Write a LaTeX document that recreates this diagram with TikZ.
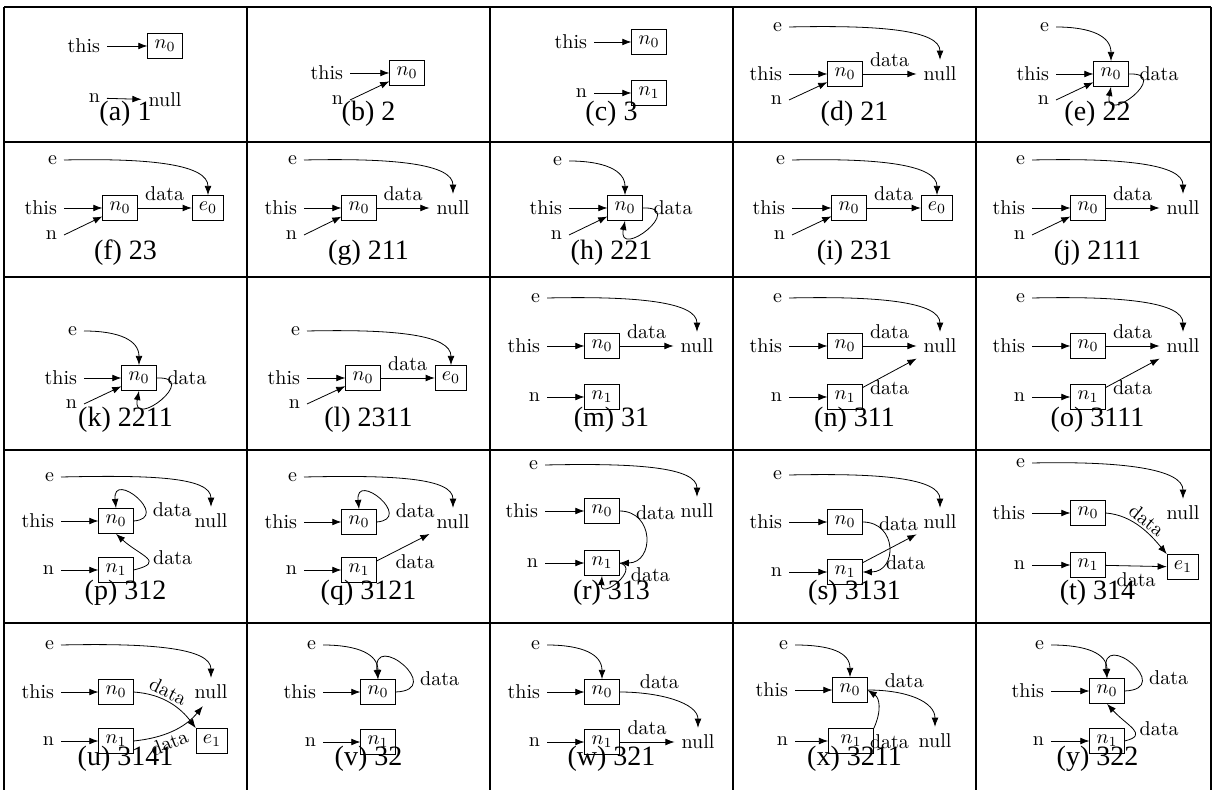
\documentclass[tikz,border=0pt]{standalone}
\usepackage{fontspec}
\newfontfamily\capserif{Liberation Serif}
\usetikzlibrary{arrows.meta}
\tikzset{
  lbl/.style={inner sep=3.33pt},
  nbox/.style={draw, inner sep=3.33pt},
  tag/.style={inner sep=3.33pt},
  slant/.style={sloped, inner sep=1pt},
  subcap/.style={font=\capserif\fontsize{14}{16}\selectfont},
  rule/.style={line width=0.6pt}
}
\begin{document}
\begin{tikzpicture}[x=0.5pt, y=-0.5pt, >={Latex[length=4.6pt,width=3.4pt]}]
\useasboundingbox (0,0) rectangle (1214,790);

% table
\foreach \yy in {7,142,277,450,623} \draw[rule] (4,\yy) -- (1211,\yy);
\foreach \xx in {4,247,490,733,976,1211} \draw[rule] (\xx,7) -- (\xx,790);

% (a) 1
\begin{scope}[shift={(4,0)}]
\node[lbl, anchor=east] (a-this) at (103,46) {this};
\node[nbox] (a-n0) at (161,46) {$n_0$};
\node[lbl, anchor=east] (a-n) at (103,98) {n};
\node[lbl] (a-null) at (161,100) {null};
\node[subcap] (a-cap) at (121.5,114) {(a) 1};
\draw[->] (a-this) -- (a-n0);
\draw[->] (a-n) -- (a-null);
\end{scope}

% (b) 2
\begin{scope}[shift={(247,0)}]
\node[lbl, anchor=east] (b-this) at (103,73) {this};
\node[nbox] (b-n0) at (160,73) {$n_0$};
\node[lbl, anchor=east] (b-n) at (103,100) {n};
\node[subcap] (b-cap) at (121.5,114) {(b) 2};
\draw[->] (b-this) -- (b-n0);
\draw[->] (b-n.east) -- (b-n0);
\end{scope}

% (c) 3
\begin{scope}[shift={(490,0)}]
\node[lbl, anchor=east] (c-this) at (104,42) {this};
\node[nbox] (c-n0) at (159,42) {$n_0$};
\node[lbl, anchor=east] (c-n) at (104,93) {n};
\node[nbox] (c-n1) at (159,93) {$n_1$};
\node[subcap] (c-cap) at (121.5,114) {(c) 3};
\draw[->] (c-this) -- (c-n0);
\draw[->] (c-n) -- (c-n1);
\end{scope}

% (d) 21
\begin{scope}[shift={(733,0)}]
\node[lbl, anchor=east] (d-e) at (56,27) {e};
\node[lbl, anchor=east] (d-this) at (56,74) {this};
\node[lbl, anchor=east] (d-n) at (56,100) {n};
\node[nbox] (d-n0) at (112,74) {$n_0$};
\node[lbl] (d-null) at (207,74) {null};
\node[subcap] (d-cap) at (121.5,114) {(d) 21};
\draw[->] (d-e.east) .. controls +(90,-2) and +(0,-30) .. (d-null.north);
\draw[->] (d-this) -- (d-n0);
\draw[->] (d-n.east) -- (d-n0);
\draw[->] (d-n0) -- node[tag, above] (d-l1) {data} (d-null);
\end{scope}

% (e) 22
\begin{scope}[shift={(976,0)}]
\node[lbl, anchor=east] (e-e) at (80,27) {e};
\node[lbl, anchor=east] (e-this) at (80,74) {this};
\node[lbl, anchor=east] (e-n) at (80,100) {n};
\node[nbox] (e-n0) at (135,74) {$n_0$};
\node[subcap] (e-cap) at (121.5,114) {(e) 22};
\draw[->] (e-e.east) .. controls +(35,0) and +(0,-25) .. (e-n0.north);
\draw[->] (e-this) -- (e-n0);
\draw[->] (e-n.east) -- (e-n0);
\draw[->] (e-n0.east) .. controls +(45,-2) and +(-8,40) .. (e-n0.south) node[tag, pos=0, anchor=west, xshift=2pt] (e-l1) {data};
\end{scope}

% (f) 23
\begin{scope}[shift={(4,0)}]
\node[lbl, anchor=east] (f-e) at (60,160) {e};
\node[lbl, anchor=east] (f-this) at (60,208) {this};
\node[lbl, anchor=east] (f-n) at (60,235) {n};
\node[nbox] (f-n0) at (116,208) {$n_0$};
\node[nbox] (f-e0) at (204,208) {$e_0$};
\node[subcap] (f-cap) at (121.5,253) {(f) 23};
\draw[->] (f-e.east) .. controls +(90,-2) and +(0,-30) .. (f-e0.north);
\draw[->] (f-this) -- (f-n0);
\draw[->] (f-n.east) -- (f-n0);
\draw[->] (f-n0) -- node[tag, above] (f-l1) {data} (f-e0);
\end{scope}

% (g) 211
\begin{scope}[shift={(247,0)}]
\node[lbl, anchor=east] (g-e) at (57,160) {e};
\node[lbl, anchor=east] (g-this) at (57,208) {this};
\node[lbl, anchor=east] (g-n) at (57,235) {n};
\node[nbox] (g-n0) at (112,208) {$n_0$};
\node[lbl] (g-null) at (206,208) {null};
\node[subcap] (g-cap) at (121.5,253) {(g) 211};
\draw[->] (g-e.east) .. controls +(90,-2) and +(0,-30) .. (g-null.north);
\draw[->] (g-this) -- (g-n0);
\draw[->] (g-n.east) -- (g-n0);
\draw[->] (g-n0) -- node[tag, above] (g-l1) {data} (g-null);
\end{scope}

% (h) 221
\begin{scope}[shift={(490,0)}]
\node[lbl, anchor=east] (h-e) at (79,161) {e};
\node[lbl, anchor=east] (h-this) at (79,208) {this};
\node[lbl, anchor=east] (h-n) at (79,235) {n};
\node[nbox] (h-n0) at (135,208) {$n_0$};
\node[subcap] (h-cap) at (121.5,253) {(h) 221};
\draw[->] (h-e.east) .. controls +(35,0) and +(0,-25) .. (h-n0.north);
\draw[->] (h-this) -- (h-n0);
\draw[->] (h-n.east) -- (h-n0);
\draw[->] (h-n0.east) .. controls +(45,-2) and +(-8,40) .. (h-n0.south) node[tag, pos=0, anchor=west, xshift=2pt] (h-l1) {data};
\end{scope}

% (i) 231
\begin{scope}[shift={(733,0)}]
\node[lbl, anchor=east] (i-e) at (59,160) {e};
\node[lbl, anchor=east] (i-this) at (59,208) {this};
\node[lbl, anchor=east] (i-n) at (59,235) {n};
\node[nbox] (i-n0) at (116,208) {$n_0$};
\node[nbox] (i-e0) at (204,208) {$e_0$};
\node[subcap] (i-cap) at (121.5,253) {(i) 231};
\draw[->] (i-e.east) .. controls +(90,-2) and +(0,-30) .. (i-e0.north);
\draw[->] (i-this) -- (i-n0);
\draw[->] (i-n.east) -- (i-n0);
\draw[->] (i-n0) -- node[tag, above] (i-l1) {data} (i-e0);
\end{scope}

% (j) 2111
\begin{scope}[shift={(976,0)}]
\node[lbl, anchor=east] (j-e) at (56,160) {e};
\node[lbl, anchor=east] (j-this) at (56,208) {this};
\node[lbl, anchor=east] (j-n) at (56,235) {n};
\node[nbox] (j-n0) at (112,208) {$n_0$};
\node[lbl] (j-null) at (207,208) {null};
\node[subcap] (j-cap) at (121.5,253) {(j) 2111};
\draw[->] (j-e.east) .. controls +(90,-2) and +(0,-30) .. (j-null.north);
\draw[->] (j-this) -- (j-n0);
\draw[->] (j-n.east) -- (j-n0);
\draw[->] (j-n0) -- node[tag, above] (j-l1) {data} (j-null);
\end{scope}

% (k) 2211
\begin{scope}[shift={(4,0)}]
\node[lbl, anchor=east] (k-e) at (80,331) {e};
\node[lbl, anchor=east] (k-this) at (80,378) {this};
\node[lbl, anchor=east] (k-n) at (80,404) {n};
\node[nbox] (k-n0) at (135,378) {$n_0$};
\node[subcap] (k-cap) at (121.5,420) {(k) 2211};
\draw[->] (k-e.east) .. controls +(35,0) and +(0,-25) .. (k-n0.north);
\draw[->] (k-this) -- (k-n0);
\draw[->] (k-n.east) -- (k-n0);
\draw[->] (k-n0.east) .. controls +(45,-2) and +(-8,40) .. (k-n0.south) node[tag, pos=0, anchor=west, xshift=2pt] (k-l1) {data};
\end{scope}

% (l) 2311
\begin{scope}[shift={(247,0)}]
\node[lbl, anchor=east] (l-e) at (60,331) {e};
\node[lbl, anchor=east] (l-this) at (60,378) {this};
\node[lbl, anchor=east] (l-n) at (60,404) {n};
\node[nbox] (l-n0) at (116,378) {$n_0$};
\node[nbox] (l-e0) at (204,378) {$e_0$};
\node[subcap] (l-cap) at (121.5,420) {(l) 2311};
\draw[->] (l-e.east) .. controls +(90,-2) and +(0,-30) .. (l-e0.north);
\draw[->] (l-this) -- (l-n0);
\draw[->] (l-n.east) -- (l-n0);
\draw[->] (l-n0) -- node[tag, above] (l-l1) {data} (l-e0);
\end{scope}

% (m) 31
\begin{scope}[shift={(490,0)}]
\node[lbl, anchor=east] (m-e) at (57,298) {e};
\node[lbl, anchor=east] (m-this) at (57,346) {this};
\node[lbl, anchor=east] (m-n) at (57,397) {n};
\node[nbox] (m-n0) at (112,346) {$n_0$};
\node[nbox] (m-n1) at (112,397) {$n_1$};
\node[lbl] (m-null) at (207,346) {null};
\node[subcap] (m-cap) at (121.5,420) {(m) 31};
\draw[->] (m-e.east) .. controls +(90,-2) and +(0,-30) .. (m-null.north);
\draw[->] (m-this) -- (m-n0);
\draw[->] (m-n) -- (m-n1);
\draw[->] (m-n0) -- node[tag, above] (m-l1) {data} (m-null);
\end{scope}

% (n) 311
\begin{scope}[shift={(733,0)}]
\node[lbl, anchor=east] (n-e) at (56,298) {e};
\node[lbl, anchor=east] (n-this) at (56,346) {this};
\node[lbl, anchor=east] (n-n) at (56,397) {n};
\node[nbox] (n-n0) at (112,346) {$n_0$};
\node[nbox] (n-n1) at (112,397) {$n_1$};
\node[lbl] (n-null) at (207,346) {null};
\node[subcap] (n-cap) at (121.5,420) {(n) 311};
\draw[->] (n-e.east) .. controls +(90,-2) and +(0,-30) .. (n-null.north);
\draw[->] (n-this) -- (n-n0);
\draw[->] (n-n) -- (n-n1);
\draw[->] (n-n0) -- node[tag, above] (n-l1) {data} (n-null);
\draw[->] (n-n1) -- node[tag, below] (n-l2) {data} (n-null);
\end{scope}

% (o) 3111
\begin{scope}[shift={(976,0)}]
\node[lbl, anchor=east] (o-e) at (56,298) {e};
\node[lbl, anchor=east] (o-this) at (56,346) {this};
\node[lbl, anchor=east] (o-n) at (56,397) {n};
\node[nbox] (o-n0) at (112,346) {$n_0$};
\node[nbox] (o-n1) at (112,397) {$n_1$};
\node[lbl] (o-null) at (207,346) {null};
\node[subcap] (o-cap) at (121.5,420) {(o) 3111};
\draw[->] (o-e.east) .. controls +(90,-2) and +(0,-30) .. (o-null.north);
\draw[->] (o-this) -- (o-n0);
\draw[->] (o-n) -- (o-n1);
\draw[->] (o-n0) -- node[tag, above] (o-l1) {data} (o-null);
\draw[->] (o-n1) -- node[tag, below] (o-l2) {data} (o-null);
\end{scope}

% (p) 312
\begin{scope}[shift={(4,0)}]
\node[lbl, anchor=east] (p-e) at (57,477) {e};
\node[lbl, anchor=east] (p-this) at (57,521) {this};
\node[lbl, anchor=east] (p-n) at (57,570) {n};
\node[nbox] (p-n0) at (112,521) {$n_0$};
\node[nbox] (p-n1) at (112,570) {$n_1$};
\node[lbl] (p-null) at (207,521) {null};
\node[subcap] (p-cap) at (121.5,593) {(p) 312};
\draw[->] (p-e.east) .. controls +(90,-2) and +(0,-30) .. (p-null.north);
\draw[->] (p-this) -- (p-n0);
\draw[->] (p-n) -- (p-n1);
\draw[->] (p-n0.east) .. controls +(38,-3) and +(-4,-39) .. node[tag, pos=0.3, right] (p-l1) {data} (p-n0.north);
\draw[->] (p-n1.east) .. controls +(33,-8) and +(24,22) .. node[tag, midway, right] (p-l2) {data} (p-n0.south);
\end{scope}

% (q) 3121
\begin{scope}[shift={(247,0)}]
\node[lbl, anchor=east] (q-e) at (57,477) {e};
\node[lbl, anchor=east] (q-this) at (57,522) {this};
\node[lbl, anchor=east] (q-n) at (57,570) {n};
\node[nbox] (q-n0) at (112,522) {$n_0$};
\node[nbox] (q-n1) at (112,570) {$n_1$};
\node[lbl] (q-null) at (206,522) {null};
\node[subcap] (q-cap) at (121.5,593) {(q) 3121};
\draw[->] (q-e.east) .. controls +(90,-2) and +(0,-30) .. (q-null.north);
\draw[->] (q-this) -- (q-n0);
\draw[->] (q-n) -- (q-n1);
\draw[->] (q-n0.east) .. controls +(38,-3) and +(-4,-39) .. node[tag, pos=0.3, right] (q-l1) {data} (q-n0.north);
\draw[->] (q-n1) -- node[tag, midway, below, xshift=6pt] (q-l2) {data} (q-null);
\end{scope}

% (r) 313
\begin{scope}[shift={(490,0)}]
\node[lbl, anchor=east] (r-e) at (55,465) {e};
\node[lbl, anchor=east] (r-this) at (55,511) {this};
\node[lbl, anchor=east] (r-n) at (55,563) {n};
\node[nbox] (r-n0) at (112,511) {$n_0$};
\node[nbox] (r-n1) at (112,563) {$n_1$};
\node[lbl] (r-null) at (207,511) {null};
\node[subcap] (r-cap) at (121.5,593) {(r) 313};
\draw[->] (r-e.east) .. controls +(90,-2) and +(0,-30) .. (r-null.north);
\draw[->] (r-this) -- (r-n0);
\draw[->] (r-n) -- (r-n1);
\draw[->] (r-n0.east) .. controls +(35,0) and +(35,0) .. node[tag, pos=0.1, right] (r-l1) {data} (r-n1.east);
\draw[->] (r-n1.east) .. controls +(22,5) and +(-2,25) .. node[tag, pos=0.35, right] (r-l2) {data} (r-n1.south);
\end{scope}

% (s) 3131
\begin{scope}[shift={(733,0)}]
\node[lbl, anchor=east] (s-e) at (56,475) {e};
\node[lbl, anchor=east] (s-this) at (56,522) {this};
\node[lbl, anchor=east] (s-n) at (56,572) {n};
\node[nbox] (s-n0) at (112,522) {$n_0$};
\node[nbox] (s-n1) at (112,572) {$n_1$};
\node[lbl] (s-null) at (207,522) {null};
\node[subcap] (s-cap) at (121.5,593) {(s) 3131};
\draw[->] (s-e.east) .. controls +(90,-2) and +(0,-30) .. (s-null.north);
\draw[->] (s-this) -- (s-n0);
\draw[->] (s-n) -- (s-n1);
\draw[->] (s-n0.east) .. controls +(35,0) and +(35,0) .. node[tag, pos=0.1, right] (s-l1) {data} (s-n1.east);
\draw[->] (s-n1) -- node[tag, midway, below, xshift=8pt] (s-l2) {data} (s-null);
\end{scope}

% (t) 314
\begin{scope}[shift={(976,0)}]
\node[lbl, anchor=east] (t-e) at (56,463) {e};
\node[lbl, anchor=east] (t-this) at (56,513) {this};
\node[lbl, anchor=east] (t-n) at (56,565) {n};
\node[nbox] (t-n0) at (112,513) {$n_0$};
\node[nbox] (t-n1) at (112,565) {$n_1$};
\node[lbl] (t-null) at (207,513) {null};
\node[nbox] (t-e1) at (207,567) {$e_1$};
\node[subcap] (t-cap) at (121.5,593) {(t) 314};
\draw[->] (t-e.east) .. controls +(90,-2) and +(0,-30) .. (t-null.north);
\draw[->] (t-this) -- (t-n0);
\draw[->] (t-n) -- (t-n1);
\draw[->] (t-n0.east) .. controls +(28,2) and +(-15,-18) .. node[tag, slant, midway, above] (t-l1) {data} (t-e1.north west);
\draw[->] (t-n1) -- node[tag, below] (t-l2) {data} (t-e1);
\end{scope}

% (u) 3141
\begin{scope}[shift={(4,0)}]
\node[lbl, anchor=east] (u-e) at (57,645) {e};
\node[lbl, anchor=east] (u-this) at (57,692) {this};
\node[lbl, anchor=east] (u-n) at (57,741) {n};
\node[nbox] (u-n0) at (112,692) {$n_0$};
\node[nbox] (u-n1) at (112,741) {$n_1$};
\node[lbl] (u-null) at (207,692) {null};
\node[nbox] (u-e1) at (208,741) {$e_1$};
\node[subcap] (u-cap) at (121.5,759) {(u) 3141};
\draw[->] (u-e.east) .. controls +(90,-2) and +(0,-30) .. (u-null.north);
\draw[->] (u-this) -- (u-n0);
\draw[->] (u-n) -- (u-n1);
\draw[->] (u-n0.east) .. controls +(30,2) and +(-15,-20) .. node[tag, slant, pos=0.4, above] (u-l1) {data} (u-e1.north west);
\draw[->] (u-n1.east) .. controls +(30,-3) and +(-18,22) .. node[tag, slant, pos=0.4, below] (u-l2) {data} (u-null.-120);
\end{scope}

% (v) 32
\begin{scope}[shift={(247,0)}]
\node[lbl, anchor=east] (v-e) at (76,645) {e};
\node[lbl, anchor=east] (v-this) at (76,692) {this};
\node[lbl, anchor=east] (v-n) at (76,742) {n};
\node[nbox] (v-n0) at (131,692) {$n_0$};
\node[nbox] (v-n1) at (131,742) {$n_1$};
\node[subcap] (v-cap) at (121.5,759) {(v) 32};
\draw[->] (v-e.east) .. controls +(35,0) and +(0,-25) .. (v-n0.north);
\draw[->] (v-this) -- (v-n0);
\draw[->] (v-n) -- (v-n1);
\draw[->] (v-n0.east) .. controls +(51,-2) and +(-6,-50) .. node[tag, pos=0.3, right] (v-l1) {data} (v-n0.north);
\end{scope}

% (w) 321
\begin{scope}[shift={(490,0)}]
\node[lbl, anchor=east] (w-e) at (57,645) {e};
\node[lbl, anchor=east] (w-this) at (57,692) {this};
\node[lbl, anchor=east] (w-n) at (57,742) {n};
\node[nbox] (w-n0) at (112,692) {$n_0$};
\node[nbox] (w-n1) at (112,742) {$n_1$};
\node[lbl] (w-null) at (208,742) {null};
\node[subcap] (w-cap) at (121.5,759) {(w) 321};
\draw[->] (w-e.east) .. controls +(35,0) and +(0,-25) .. (w-n0.north);
\draw[->] (w-this) -- (w-n0);
\draw[->] (w-n) -- (w-n1);
\draw[->] (w-n0.east) .. controls +(40,0) and +(0,-25) .. node[tag, pos=0.35, above] (w-l1) {data} (w-null.north);
\draw[->] (w-n1) -- node[tag, above] (w-l2) {data} (w-null);
\end{scope}

% (x) 3211
\begin{scope}[shift={(733,0)}]
\node[lbl, anchor=east] (x-e) at (62,645) {e};
\node[lbl, anchor=east] (x-this) at (62,690) {this};
\node[lbl, anchor=east] (x-n) at (62,741) {n};
\node[nbox] (x-n0) at (117,690) {$n_0$};
\node[nbox, minimum width=22.5pt] (x-n1) at (118,741) {$n_1$};
\node[lbl] (x-null) at (202,741) {null};
\node[tag, anchor=west] (x-l2) at (130,742) {data};
\node[subcap] (x-cap) at (121.5,759) {(x) 3211};
\draw[->] (x-e.east) .. controls +(35,0) and +(0,-25) .. (x-n0.north);
\draw[->] (x-this) -- (x-n0);
\draw[->] (x-n) -- (x-n1);
\draw[->] (x-n0.east) .. controls +(40,0) and +(0,-25) .. node[tag, pos=0.35, above] (x-l1) {data} (x-null.north);
\draw[->] (x-n1.north east) .. controls +(8,-18) and +(12,8) .. (x-n0.east);
\end{scope}

% (y) 322
\begin{scope}[shift={(976,0)}]
\node[lbl, anchor=east] (y-e) at (75,645) {e};
\node[lbl, anchor=east] (y-this) at (75,691) {this};
\node[lbl, anchor=east] (y-n) at (75,741) {n};
\node[nbox] (y-n0) at (131,691) {$n_0$};
\node[nbox] (y-n1) at (131,741) {$n_1$};
\node[subcap] (y-cap) at (121.5,759) {(y) 322};
\draw[->] (y-e.east) .. controls +(35,0) and +(0,-25) .. (y-n0.north);
\draw[->] (y-this) -- (y-n0);
\draw[->] (y-n) -- (y-n1);
\draw[->] (y-n0.east) .. controls +(51,-2) and +(-6,-50) .. node[tag, pos=0.3, right] (y-l1) {data} (y-n0.north);
\draw[->] (y-n1.east) .. controls +(25,-6) and +(20,22) .. node[tag, midway, right] (y-l2) {data} (y-n0.south);
\end{scope}
\end{tikzpicture}
\end{document}
